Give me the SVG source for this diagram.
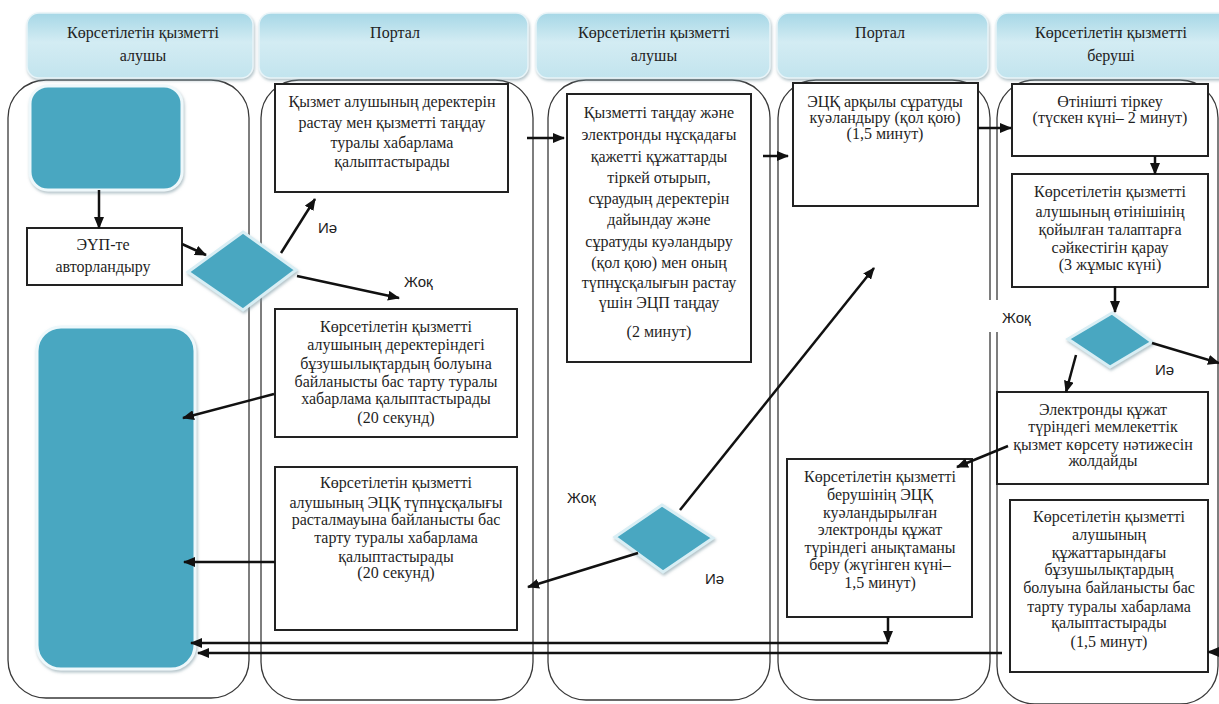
<svg xmlns="http://www.w3.org/2000/svg" width="1219" height="704" viewBox="0 0 1219 704">
<defs>
<linearGradient id="hdr" x1="0" y1="0" x2="0" y2="1">
<stop offset="0" stop-color="#a6d7e6"/>
<stop offset="0.45" stop-color="#d3ecf3"/>
<stop offset="1" stop-color="#c2e4ee"/>
</linearGradient>
<filter id="sh" x="-10%" y="-10%" width="130%" height="130%">
<feDropShadow dx="1" dy="2" stdDeviation="1.5" flood-color="#7f9aa3" flood-opacity="0.6"/>
</filter>
<marker id="ah" markerUnits="userSpaceOnUse" markerWidth="12" markerHeight="10" refX="11" refY="5" orient="auto">
<path d="M0,0 L12,5 L0,10 z" fill="#111"/>
</marker>
</defs>
<style>
.lane{fill:none;stroke:#3a3a3a;stroke-width:1.3}
.hdr{fill:url(#hdr);stroke:#e8f4f8;stroke-width:1.5;filter:url(#sh)}
.ht{font-family:"Liberation Serif","Times New Roman",serif;font-size:16px;fill:#222;text-anchor:middle}
.box{fill:#fff;stroke:#222;stroke-width:2}
.bt{font-family:"Liberation Serif","Times New Roman",serif;font-size:16px;fill:#1f1f1f;text-anchor:middle}
.term{fill:#49a7c1;stroke:#eef8fb;stroke-width:3;filter:url(#sh)}
.dec{fill:#49a7c1;stroke:#d9eef4;stroke-width:3;filter:url(#sh)}
.cn{fill:none;stroke:#111;stroke-width:2.5}
.arr{marker-end:url(#ah)}
.lbl{font-family:"Liberation Sans",Arial,sans-serif;font-size:15px;fill:#222}
</style>
<rect width="1219" height="704" fill="#fff"/>
<g id="lanes">
<rect class="lane" x="8" y="80" width="241" height="618" rx="38"/>
<rect class="lane" x="261" y="80" width="272" height="620" rx="38"/>
<rect class="lane" x="548" y="80" width="222" height="620" rx="38"/>
<rect class="lane" x="778" y="80" width="212" height="620" rx="38"/>
<rect class="lane" x="997" y="80" width="221" height="624" rx="38"/>
</g>
<g id="header1"><rect class="hdr" x="27" y="13" width="226" height="65" rx="12"/><text class="ht" x="143" y="38">Көрсетілетін қызметті</text><text class="ht" x="143" y="61">алушы</text></g>
<g id="header2"><rect class="hdr" x="259" y="13" width="269" height="65" rx="12"/><text class="ht" x="395" y="38">Портал</text></g>
<g id="header3"><rect class="hdr" x="536" y="13" width="234" height="65" rx="12"/><text class="ht" x="654" y="38">Көрсетілетін қызметті</text><text class="ht" x="654" y="61">алушы</text></g>
<g id="header4"><rect class="hdr" x="777" y="13" width="211" height="65" rx="12"/><text class="ht" x="880" y="38">Портал</text></g>
<g id="header5"><rect class="hdr" x="996" y="13" width="235" height="65" rx="12"/><text class="ht" x="1111" y="38">Көрсетілетін қызметті</text><text class="ht" x="1111" y="61">беруші</text></g>

<g id="start"><rect class="term" x="30" y="86" width="152" height="104" rx="18"/></g>
<g id="end"><rect class="term" x="37" y="327" width="158" height="342" rx="24"/></g>
<g id="auth"><rect class="box" x="27" y="228" width="155" height="57"/><text class="bt" x="103" y="250">ЭҮП-те</text><text class="bt" x="103" y="272">авторландыру</text></g>
<g id="dec1"><polygon class="dec" points="188,272 243,232 296,270 243,310"/></g>
<g id="boxA"><rect class="box" x="275" y="84" width="233" height="108"/>
<text class="bt" x="392" y="107">Қызмет алушының деректерін</text>
<text class="bt" x="392" y="128">растау мен қызметті таңдау</text>
<text class="bt" x="392" y="148">туралы хабарлама</text>
<text class="bt" x="392" y="167">қалыптастырады</text></g>
<g id="boxI"><rect class="box" x="275" y="309" width="242" height="128"/>
<text class="bt" x="396" y="332">Көрсетілетін  қызметті</text>
<text class="bt" x="396" y="350">алушының деректеріндегі</text>
<text class="bt" x="396" y="369">бұзушылықтардың болуына</text>
<text class="bt" x="396" y="387">байланысты бас тарту туралы</text>
<text class="bt" x="396" y="404">хабарлама қалыптастырады</text>
<text class="bt" x="396" y="423">(20 секунд)</text></g>
<g id="boxJ"><rect class="box" x="275" y="467" width="242" height="163"/>
<text class="bt" x="396" y="488">Көрсетілетін  қызметті</text>
<text class="bt" x="396" y="508">алушының ЭЦҚ түпнұсқалығы</text>
<text class="bt" x="396" y="525">расталмауына байланысты бас</text>
<text class="bt" x="396" y="543">тарту туралы хабарлама</text>
<text class="bt" x="396" y="562">қалыптастырады</text>
<text class="bt" x="396" y="578">(20 секунд)</text></g>
<g id="boxB"><rect class="box" x="567" y="94" width="184" height="268"/>
<text class="bt" x="659" y="118">Қызметті таңдау және</text>
<text class="bt" x="659" y="140">электронды нұсқадағы</text>
<text class="bt" x="659" y="162">қажетті құжаттарды</text>
<text class="bt" x="659" y="183">тіркей отырып,</text>
<text class="bt" x="659" y="204">сұраудың деректерін</text>
<text class="bt" x="659" y="225">дайындау және</text>
<text class="bt" x="659" y="247">сұратуды куәландыру</text>
<text class="bt" x="659" y="268">(қол қою) мен оның</text>
<text class="bt" x="659" y="288">түпнұсқалығын растау</text>
<text class="bt" x="659" y="308">үшін ЭЦП таңдау</text>
<text class="bt" x="659" y="337">(2 минут)</text></g>
<g id="dec3"><polygon class="dec" points="615,537 662,505 713,538 663,572"/></g>
<g id="boxC"><rect class="box" x="793" y="83" width="185" height="123"/>
<text class="bt" x="885" y="107">ЭЦҚ арқылы сұратуды</text>
<text class="bt" x="885" y="123">куәландыру (қол қою)</text>
<text class="bt" x="885" y="139">(1,5 минут)</text></g>
<g id="boxH"><rect class="box" x="787" y="459" width="185" height="158"/>
<text class="bt" x="880" y="482">Көрсетілетін қызметті</text>
<text class="bt" x="880" y="500">берушінің ЭЦҚ</text>
<text class="bt" x="880" y="518">куәландырылған</text>
<text class="bt" x="880" y="535">электронды құжат</text>
<text class="bt" x="880" y="553">түріндегі анықтаманы</text>
<text class="bt" x="880" y="570">беру (жүгінген күні–</text>
<text class="bt" x="880" y="588">1,5 минут)</text></g>
<g id="boxD"><rect class="box" x="1012" y="84" width="196" height="72"/>
<text class="bt" x="1110" y="107">Өтінішті тіркеу</text>
<text class="bt" x="1110" y="123">(түскен күні– 2 минут)</text></g>
<g id="boxE"><rect class="box" x="1012" y="174" width="196" height="113"/>
<text class="bt" x="1110" y="197">Көрсетілетін  қызметті</text>
<text class="bt" x="1110" y="217">алушының өтінішінің</text>
<text class="bt" x="1110" y="235">қойылған талаптарға</text>
<text class="bt" x="1110" y="253">сәйкестігін қарау</text>
<text class="bt" x="1110" y="270">(3 жұмыс күні)</text></g>
<g id="dec2"><polygon class="dec" points="1068,339 1112,313 1152,342 1110,367"/></g>
<g id="boxF"><rect class="box" x="997" y="392" width="211" height="92"/>
<text class="bt" x="1103" y="415">Электронды құжат</text>
<text class="bt" x="1103" y="432">түріндегі мемлекеттік</text>
<text class="bt" x="1103" y="450">қызмет көрсету нәтижесін</text>
<text class="bt" x="1103" y="466">жолдайды</text></g>
<g id="boxG"><rect class="box" x="1010" y="500" width="198" height="172"/>
<text class="bt" x="1109" y="522">Көрсетілетін  қызметті</text>
<text class="bt" x="1109" y="540">алушының</text>
<text class="bt" x="1109" y="558">құжаттарындағы</text>
<text class="bt" x="1109" y="575">бұзушылықтардың</text>
<text class="bt" x="1109" y="593">болуына байланысты бас</text>
<text class="bt" x="1109" y="612">тарту туралы хабарлама</text>
<text class="bt" x="1109" y="628">қалыптастырады</text>
<text class="bt" x="1109" y="647">(1,5 минут)</text></g>

<g id="connectors">
<path class="cn arr" d="M99,190 V228"/>
<path class="cn arr" d="M182,244 L206,255"/>
<path class="cn arr" d="M281,253 L315,199"/>
<path class="cn arr" d="M297,276 L399,298"/>
<path class="cn arr" d="M274,394 L183,418"/>
<path class="cn arr" d="M275,562 H184"/>
<path class="cn arr" d="M527,138 H564"/>
<path class="cn arr" d="M763,156 H788"/>
<path class="cn arr" d="M680,510 L874,268"/>
<path class="cn arr" d="M638,553 L528,587"/>
<path class="cn arr" d="M978,128 H1011"/>
<path class="cn arr" d="M1155,156 V174"/>
<path class="cn arr" d="M1115,286 V312"/>
<path class="cn arr" d="M1152,343 L1219,363"/>
<path class="cn arr" d="M1076,355 L1066,392"/>
<path class="cn arr" d="M1008,446 L957,467"/>
<path class="cn arr" d="M888,617 V642"/>
<path class="cn arr" d="M888,643 H191"/>
<path class="cn arr" d="M1002,653 H198"/>
<path class="cn arr" d="M1219,652 H1208"/>
<rect x="989" y="300" width="48" height="32" fill="#fff"/>
<text class="lbl" x="318" y="233">Иә</text>
<text class="lbl" x="404" y="287">Жоқ</text>
<text class="lbl" x="567" y="503">Жоқ</text>
<text class="lbl" x="705" y="584">Иә</text>
<text class="lbl" x="1002" y="323">Жоқ</text>
<text class="lbl" x="1155" y="375">Иә</text>
</g>
</svg>
